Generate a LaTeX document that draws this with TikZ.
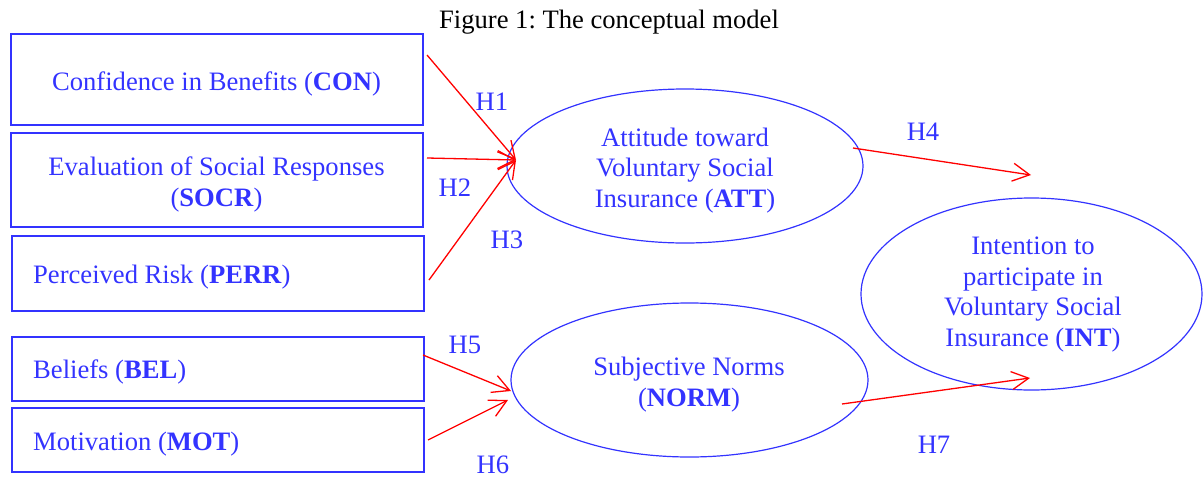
\documentclass[tikz,border=0pt]{standalone}
\usepackage{fontspec}
\setmainfont{Liberation Serif}
\usetikzlibrary{shapes.geometric,arrows.meta}
\definecolor{myblue}{RGB}{51,51,255}
\definecolor{myred}{RGB}{255,0,0}
\frenchspacing
\begin{document}
\begin{tikzpicture}[x=1pt,y=-1pt,
  every node/.style={font=\fontsize{26.6}{30.5}\selectfont, text=myblue},
  box/.style={draw=myblue, line width=1.5pt, minimum width=412pt, inner sep=0pt},
  oval/.style={ellipse, draw=myblue, line width=1.2pt, inner sep=0pt},
  arr/.style={draw=myred, line width=1.3pt, -{Straight Barb[length=17pt,width=18pt]}},
  lbl/.style={inner sep=0pt}
]
\useasboundingbox (0,0) rectangle (1203,477);

\node[text=black, anchor=base] (title) at (609,28.5) {Figure 1: The conceptual model};

% boxes
\node[box, minimum height=91pt] (con) at (217,79.5) {};
\node[box, minimum height=94pt] (socr) at (217,180) {};
\node[box, minimum height=75pt] (perr) at (218,273.5) {};
\node[box, minimum height=64pt] (bel) at (218,369) {};
\node[box, minimum height=64pt] (mot) at (218,440) {};

\node[anchor=base] (cont) at (216.5,90) {Confidence in Benefits (\textbf{CON})};
\node[anchor=base, align=center] (socrt) at (216.5,206) {Evaluation of Social Responses\\(\textbf{SOCR})};
\node[anchor=base west, inner xsep=0pt] (perrt) at (33,283) {Perceived Risk (\textbf{PERR})};
\node[anchor=base west, inner xsep=0pt] (belt) at (33,378) {Beliefs (\textbf{BEL})};
\node[anchor=base west, inner xsep=0pt] (mott) at (33,450) {Motivation (\textbf{MOT})};

% ellipses
\node[oval, minimum width=356pt, minimum height=154pt] (att) at (685,166) {};
\node[oval, minimum width=357pt, minimum height=154pt] (norm) at (689.5,380) {};
\node[oval, minimum width=341pt, minimum height=192pt] (int) at (1031.5,294) {};

\node[anchor=base, align=center] (attt) at (685,207) {Attitude toward\\Voluntary Social\\Insurance (\textbf{ATT})};
\node[anchor=base, align=center] (normt) at (689,406) {Subjective Norms\\(\textbf{NORM})};
\node[anchor=base, align=center] (intt) at (1033,346) {Intention to\\participate in\\Voluntary Social\\Insurance (\textbf{INT})};

% connector end points
\coordinate (s1) at (427,55);
\coordinate (s2) at (427,158);
\coordinate (s3) at (429,280);
\coordinate (t123) at (516,160);
\coordinate (s4) at (853,148);
\coordinate (t4) at (1031,175);
\coordinate (s5) at (423,355);
\coordinate (t5) at (511,391);
\coordinate (s6) at (428,440);
\coordinate (t6) at (508,400);
\coordinate (s7) at (842,404);
\coordinate (t7) at (1030,378);

\draw[arr] (s1) -- (t123);
\draw[arr] (s2) -- (t123);
\draw[arr] (s3) -- (t123);
\draw[arr] (s4) -- (t4);
\draw[arr] (s5) -- (t5);
\draw[arr] (s6) -- (t6);
\draw[arr] (s7) -- (t7);

% hypothesis labels
\node[lbl] (h1) at (492,101.5) {H1};
\node[lbl] (h2) at (455,188) {H2};
\node[lbl] (h3) at (507,240) {H3};
\node[lbl] (h4) at (923,132) {H4};
\node[lbl] (h5) at (465,345) {H5};
\node[lbl] (h6) at (493,465) {H6};
\node[lbl] (h7) at (934,445) {H7};
\end{tikzpicture}
\end{document}
